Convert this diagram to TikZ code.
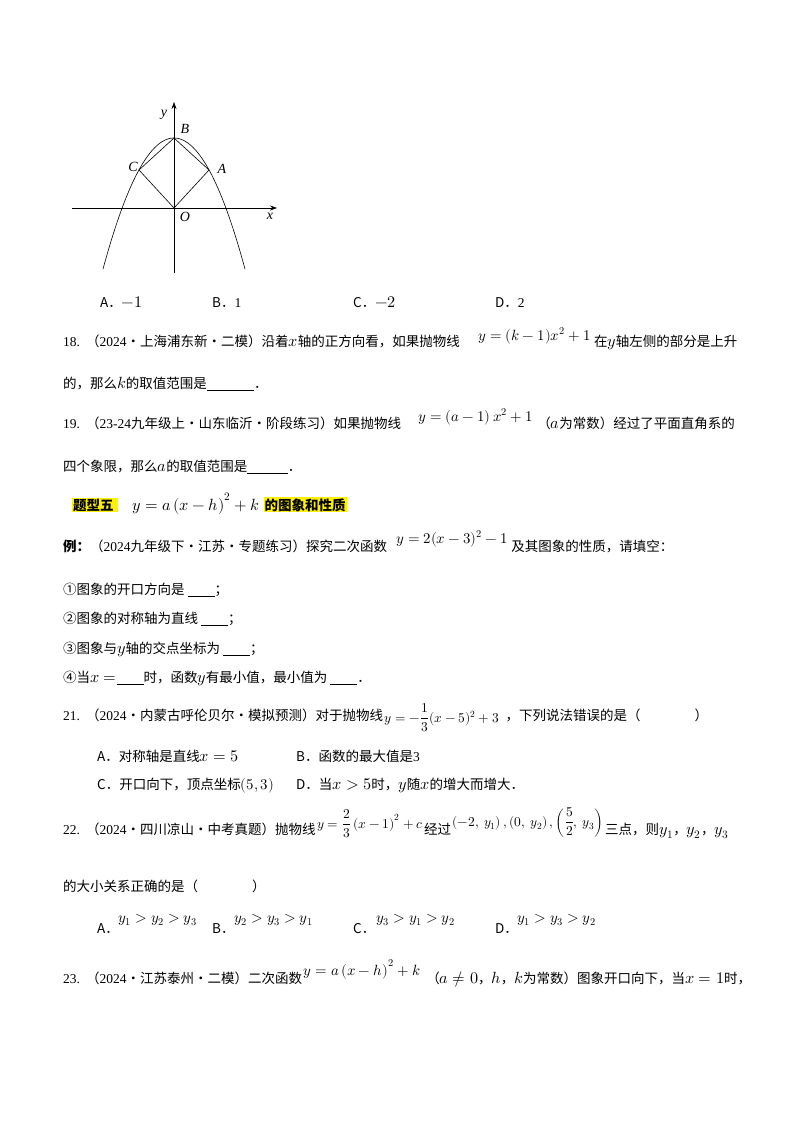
\documentclass[tikz,border=0pt]{standalone}
\usepackage{fontspec}
\usepackage{unicode-math}
\setmainfont{Noto Sans CJK SC}
\setmathfont{Latin Modern Math}
\newfontfamily\tm{Liberation Serif}
\newcommand\M[1]{\scalebox{1.2}{$#1$}}
\newcommand\N[1]{\scalebox{1.1}{$#1$}}
\newcommand\D[1]{\scalebox{1.0}{$\displaystyle #1$}}
\usetikzlibrary{arrows.meta}
\begin{document}
\begin{tikzpicture}[x=1pt,y=-1pt,
  t/.style={anchor=base west,inner sep=0pt,font=\fontsize{13.5}{16}\selectfont},
  f/.style={anchor=base west,inner sep=0pt,font=\fontsize{13.5}{16}\selectfont},
  hl/.style={fill=yellow,inner sep=1pt,anchor=base west,font=\bfseries\fontsize{13.5}{16}\selectfont},
  ax/.style={line width=0.6pt,-{Stealth[length=7pt,width=5pt]}},
  lb/.style={inner sep=1pt,font=\itshape\tm\fontsize{14}{16}\selectfont}]
\useasboundingbox (0,0) rectangle (800,1132);
\fill[white] (0,0) rectangle (800,1132);
% graph
\coordinate (xs) at (72,208); \coordinate (xe) at (277,208);
\coordinate (ys) at (174,273); \coordinate (ye) at (174,102);
\draw[ax] (xs) -- (xe);
\draw[ax] (ys) -- (ye);
\coordinate (O) at (174,208); \coordinate (B) at (174,138);
\coordinate (A) at (209,170); \coordinate (C) at (139,170);
\draw[line width=0.6pt] plot[domain=-71:71,samples=80] ({174+\x},{138+0.026*\x*\x});
\draw[line width=0.6pt] (O) -- (A) -- (B) -- (C) -- cycle;
\node[lb] (lx) at (270,216) {x};
\node[lb] (ly) at (164,115) {y};
\node[lb] (lB) at (185,129) {B};
\node[lb] (lA) at (222,169) {A};
\node[lb] (lC) at (133,167) {C};
\node[lb] (lO) at (185,217) {O};
% options 17
\node[t] (o1) at (100,307) {A．\M{-1}};
\node[t] (o2) at (212,307) {B．{\tm 1}};
\node[t] (o3) at (353,307) {C．\M{-2}};
\node[t] (o4) at (495,307) {D．{\tm 2}};
% 18
\node[t] (q18a) at (63,346) {{\tm 18.}\ \ （{\tm 2024}·上海浦东新·二模）沿着\M{x}轴的正方向看，如果抛物线};
\node[f] (q18f) at (478,340) {\N{y=(k-1)x^2+1}};
\node[t] (q18b) at ([xshift=3pt]q18f.base east |- 0,346) {在\M{y}轴左侧的部分是上升};
\node[t] (q18c) at (63,388) {的，那么\M{k}的取值范围是\underline{\hspace{3.5em}}．};
% 19
\node[t] (q19a) at (63,428) {{\tm 19.}\ \ （{\tm 23-24}九年级上·山东临沂·阶段练习）如果抛物线};
\node[f] (q19f) at (418,421) {\N{y=\left(a-1\right)x^2+1}};
\node[t] (q19b) at ([xshift=4pt]q19f.base east |- 0,428) {（\M{a}为常数）经过了平面直角系的};
\node[t] (q19c) at (63,471) {四个象限，那么\M{a}的取值范围是\underline{\hspace{3em}}．};
% heading
\node[hl] (h1) at (72,510) {题型五\ \ };
\node[t] (h2) at (132,510) {\M{y=a\left(x-h\right)^2+k}};
\node[hl] (h3) at ([xshift=4pt]h2.base east) {的图象和性质};
% example
\node[t] (e1) at (63,551) {\textbf{例：}（{\tm 2024}九年级下·江苏·专题练习）探究二次函数};
\node[f] (e1f) at (396,543) {\N{y=2(x-3)^2-1}};
\node[t] (e1b) at ([xshift=3pt]e1f.base east |- 0,551) {及其图象的性质，请填空：};
\node[t] (e2) at (63,594) {①图象的开口方向是 \underline{\hspace{2em}}；};
\node[t] (e3) at (63,623) {②图象的对称轴为直线 \underline{\hspace{2em}}；};
\node[t] (e4) at (63,653) {③图象与\M{y}轴的交点坐标为 \underline{\hspace{2em}}；};
\node[t] (e5) at (63,682) {④当\M{x=}\underline{\hspace{2em}}时，函数\M{y}有最小值，最小值为 \underline{\hspace{2em}}．};
% 21
\node[t] (q21a) at (63,720) {{\tm 21.}\ \ （{\tm 2024}·内蒙古呼伦贝尔·模拟预测）对于抛物线};
\node[f] (q21f) at ([xshift=1pt,yshift=-2pt]q21a.base east) {\D{y=-\frac{1}{3}(x-5)^2+3}};
\node[t] (q21b) at ([xshift=6pt]q21f.base east |- q21a.base) {，下列说法错误的是（\hspace{4em}）};
\node[t] (q21A) at (97,761) {A．对称轴是直线\M{x=5}};
\node[t] (q21B) at (296,761) {B．函数的最大值是{\tm 3}};
\node[t] (q21C) at (97,789) {C．开口向下，顶点坐标\N{(5,3)}};
\node[t] (q21D) at (296,789) {D．当\M{x>5}时，\M{y}随\M{x}的增大而增大．};
% 22
\node[t] (q22a) at (63,834) {{\tm 22.}\ \ （{\tm 2024}·四川凉山·中考真题）抛物线};
\node[f] (q22f) at ([xshift=1pt,yshift=6pt]q22a.base east) {\D{y=\frac{2}{3}\left(x-1\right)^2+c}};
\node[t] (q22b) at ([xshift=1pt]q22f.base east |- q22a.base) {经过};
\node[f] (q22p) at ([xshift=1pt,yshift=8pt]q22b.base east) {\D{\left(-2,\ y_1\right),\left(0,\ y_2\right),\left(\frac{5}{2},\ y_3\right)}};
\node[t] (q22c) at ([xshift=1pt]q22p.base east |- q22a.base) {三点，则\M{y_1}，\M{y_2}，\M{y_3}};
\node[t] (q22d) at (63,891) {的大小关系正确的是（\hspace{4em}）};
\node[t] (q22A) at (97,933) {A．};
\node[f] (q22Af) at (118,922) {\N{y_1>y_2>y_3}};
\node[t] (q22B) at (212,933) {B．};
\node[f] (q22Bf) at (234,922) {\N{y_2>y_3>y_1}};
\node[t] (q22C) at (353,933) {C．};
\node[f] (q22Cf) at (376,922) {\N{y_3>y_1>y_2}};
\node[t] (q22D) at (495,933) {D．};
\node[f] (q22Df) at (517,922) {\N{y_1>y_3>y_2}};
% 23
\node[t] (q23a) at (63,983) {{\tm 23.}\ \ （{\tm 2024}·江苏泰州·二模）二次函数};
\node[f] (q23f) at ([xshift=1pt,yshift=8pt]q23a.base east) {\N{y=a\left(x-h\right)^2+k}};
\node[t] (q23b) at ([xshift=6pt]q23f.base east |- q23a.base) {（\M{a\neq0}，\M{h}，\M{k}为常数）图象开口向下，当\M{x=1}时，};
\end{tikzpicture}
\end{document}
